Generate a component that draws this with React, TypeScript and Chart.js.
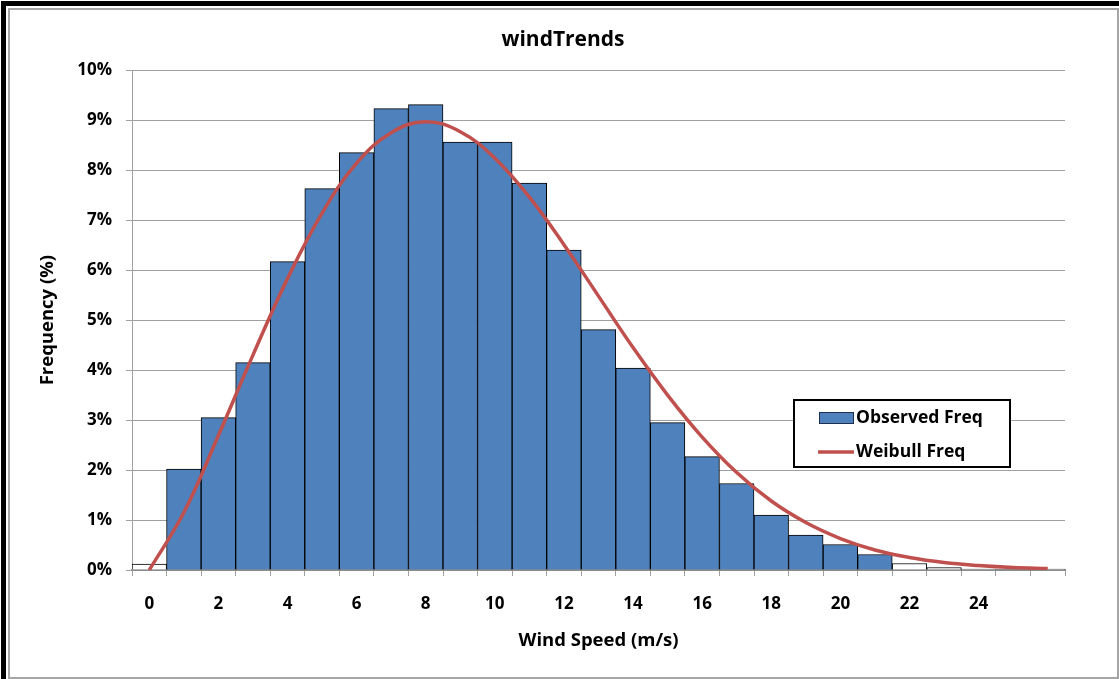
import React, { useEffect, useRef } from "react";
import { Chart, registerables } from "chart.js";

Chart.register(...registerables);

// ---- data ----
const categories: string[] = [
  "0", "1", "2", "3", "4", "5", "6", "7", "8", "9", "10", "11", "12", "13",
  "14", "15", "16", "17", "18", "19", "20", "21", "22", "23", "24", "25", "26",
];
const observedFreq: number[] = [
  0.12, 2.02, 3.05, 4.15, 6.17, 7.63, 8.35, 9.23, 9.31, 8.56, 8.56, 7.74, 6.4,
  4.81, 4.04, 2.95, 2.27, 1.73, 1.1, 0.7, 0.51, 0.31, 0.13, 0.05, 0.02, 0.01, 0.02,
];
const weibullFreq: number[] = [
  0, 1.15, 2.69, 4.3, 5.83, 7.14, 8.14, 8.75, 8.97, 8.77, 8.24, 7.46, 6.51,
  5.48, 4.45, 3.5, 2.66, 1.95, 1.38, 0.95, 0.63, 0.4, 0.25, 0.15, 0.09, 0.05, 0.03,
];
const shownXLabels: string[] = ["0", "2", "4", "6", "8", "10", "12", "14", "16", "18", "20", "22", "24"];
const yTickValues: number[] = [0, 1, 2, 3, 4, 5, 6, 7, 8, 9, 10];

const FONT = "'Open Sans'";
const BLUE = "#4F81BD";
const RED = "#C0504D";
const GRID = "#A0A0A0";

const barFill = observedFreq.map((v) => (v < 0.2 ? "#FFFFFF" : BLUE));

const boxLegend = {
  id: "boxLegend",
  afterDraw(chart: any) {
    const { ctx, chartArea } = chart;
    const x0 = Math.round(chartArea.left + (chartArea.right - chartArea.left) * 0.7096);
    const y0 = Math.round(chartArea.top + (chartArea.bottom - chartArea.top) * 0.66);
    ctx.save();
    ctx.font = `bold 17.5px ${FONT}`;
    const ds = chart.data.datasets;
    const textW = Math.max(...ds.map((d: any) => ctx.measureText(d.label).width));
    const w = Math.round(63 + textW + 26);
    const h = 67;
    ctx.fillStyle = "#FFFFFF";
    ctx.fillRect(x0, y0, w, h);
    ctx.lineWidth = 2;
    ctx.strokeStyle = "#000000";
    ctx.strokeRect(x0, y0, w, h);
    const rows = [18, 52];
    ds.forEach((d: any, i: number) => {
      const y = y0 + rows[i];
      if (d.type === "bar") {
        ctx.fillStyle = BLUE;
        ctx.fillRect(x0 + 25.5, y - 5.5, 34, 11);
        ctx.lineWidth = 1;
        ctx.strokeStyle = "#1F2F4F";
        ctx.strokeRect(x0 + 25.5, y - 5.5, 34, 11);
      } else {
        ctx.beginPath();
        ctx.moveTo(x0 + 24, y);
        ctx.lineTo(x0 + 60, y);
        ctx.lineWidth = 3.5;
        ctx.strokeStyle = RED;
        ctx.stroke();
      }
      ctx.fillStyle = "#000000";
      ctx.textAlign = "left";
      ctx.textBaseline = "middle";
      ctx.fillText(d.label, x0 + 62, y);
    });
    ctx.restore();
  },
};

export default function App() {
  const canvasRef = useRef<HTMLCanvasElement | null>(null);

  useEffect(() => {
    document.body.style.margin = "0";
    const canvas = canvasRef.current;
    if (!canvas) return;
    const chart = new Chart(canvas, {
      type: "bar",
      data: {
        labels: categories,
        datasets: [
          {
            type: "bar",
            label: "Observed Freq",
            data: observedFreq,
            backgroundColor: barFill,
            borderColor: "#000000",
            borderWidth: 1,
            categoryPercentage: 1,
            barPercentage: 1,
            order: 1,
          } as any,
          {
            type: "line",
            label: "Weibull Freq",
            data: weibullFreq,
            borderColor: RED,
            borderWidth: 3.5,
            pointRadius: 0,
            tension: 0.4,
            fill: false,
            order: 0,
          } as any,
        ],
      },
      options: {
        animation: false,
        responsive: false,
        maintainAspectRatio: false,
        layout: { padding: { left: 7, right: 0, top: 0, bottom: 10 } },
        plugins: {
          legend: { display: false },
          tooltip: { enabled: false },
          title: {
            display: true,
            text: "windTrends",
            color: "#000000",
            font: { family: FONT, size: 21, weight: "bold" },
            padding: { top: 27, bottom: 18 },
          },
        },
        scales: {
          x: {
            type: "category",
            offset: true,
            grid: {
              display: true,
              offset: true,
              drawOnChartArea: false,
              drawTicks: true,
              tickLength: 6,
              color: GRID,
            },
            border: { display: true, color: "#8C8C8C", width: 2 },
            ticks: {
              autoSkip: false,
              maxRotation: 0,
              minRotation: 0,
              padding: 18,
              color: "#000000",
              font: { family: FONT, size: 17, weight: "bold" },
              callback: (_v: any, i: number) =>
                shownXLabels.includes(categories[i]) ? categories[i] : "",
            },
            title: {
              display: true,
              text: "Wind Speed (m/s)",
              color: "#000000",
              font: { family: FONT, size: 18.5, weight: "bold" },
              padding: { top: 0, bottom: 17 },
            },
            afterFit: (s: any) => {
              s.height = 99;
            },
          },
          y: {
            position: "left",
            min: yTickValues[0],
            max: yTickValues[yTickValues.length - 1],
            afterBuildTicks: (s: any) => {
              s.ticks = yTickValues.map((v) => ({ value: v }));
            },
            grid: {
              color: GRID,
              lineWidth: 1,
              drawTicks: true,
              tickLength: 6,
            },
            border: { display: true, color: GRID, width: 1 },
            ticks: {
              padding: 14,
              color: "#000000",
              font: { family: FONT, size: 17, weight: "bold" },
              callback: (v: any) => `${v}%`,
            },
            title: {
              display: true,
              text: "Frequency (%)",
              color: "#000000",
              font: { family: FONT, size: 18.5, weight: "bold" },
              padding: { top: 30, bottom: 0 },
            },
            afterFit: (s: any) => {
              s.width = 125;
            },
          },
          yRight: {
            position: "right",
            display: true,
            grid: { display: false, drawTicks: false },
            border: { display: false },
            ticks: { display: false },
            afterFit: (s: any) => {
              s.width = 54;
            },
          },
        },
      },
      plugins: [boxLegend],
    } as any);
    return () => chart.destroy();
  }, []);

  return (
    <div style={{ position: "absolute", left: 0, top: 0, width: 1119, height: 679, background: "#FFFFFF" }}>
      <canvas ref={canvasRef} width={1119} height={679} style={{ position: "absolute", left: 0, top: 0 }} />
      <div
        style={{
          position: "absolute",
          left: 1,
          top: 1,
          width: 1118,
          height: 678,
          borderTop: "5px solid #000000",
          borderLeft: "5px solid #000000",
          boxSizing: "border-box",
          pointerEvents: "none",
        }}
      />
      <div
        style={{
          position: "absolute",
          left: 8,
          top: 8,
          width: 1111,
          height: 671,
          border: "2px solid #A6A6A6",
          boxSizing: "border-box",
          pointerEvents: "none",
        }}
      />
    </div>
  );
}
